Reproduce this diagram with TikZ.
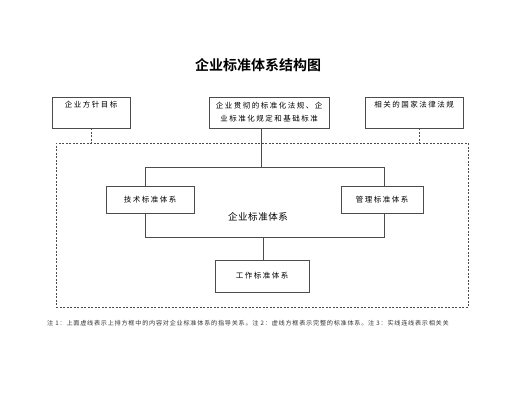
\documentclass[tikz,border=0pt]{standalone}
\usepackage{fontspec}
\setmainfont{Noto Sans CJK SC}
\newfontfamily\boxfont[LetterSpace=20]{Noto Sans CJK SC}
\newfontfamily\midfont[LetterSpace=6]{Noto Sans CJK SC}
\newfontfamily\notefont[LetterSpace=12]{Noto Sans CJK SC}
\newfontfamily\titlefont[BoldFont={Noto Sans CJK SC Bold}]{Noto Sans CJK SC}
\begin{document}
\begin{tikzpicture}[x=1pt,y=-1pt,
  ln/.style={draw=black!70,line width=0.7pt},
  dl/.style={draw=black!70,line width=0.6pt,dash pattern=on 2pt off 1.5pt},
  box/.style={ln,fill=white,inner sep=0pt,font=\boxfont\fontsize{7.5}{13}\selectfont,align=center},
  toptext/.style={box,text height=7pt,text depth=17pt}]
\useasboundingbox (0,0) rectangle (517,400);
\node[font=\titlefont\bfseries\fontsize{14}{16}\selectfont] (title) at (258,65) {企业标准体系结构图};
% top row
\node[toptext,minimum width=78,minimum height=31] (b1) at (91,112.5) {企业方针目标};
\node[box,minimum width=120,minimum height=31] (b2) at (269,112.5) {企业贯彻的标准化法规、企\\业标准化规定和基础标准};
\node[toptext,minimum width=98,minimum height=31] (b3) at (414,112.5) {相关的国家法律法规};
% frame
\node[dl,minimum width=412,minimum height=164,inner sep=0pt] (frame) at (262,225) {};
\coordinate (d3) at (419,143);
\draw[dl] (b1.south) -- (b1.south |- frame.north);
\draw[dl] (d3 |- b3.south) -- (d3);
% inner structure
\coordinate (tl) at (145,167);
\coordinate (tr) at (384,167);
\coordinate (bl) at (145,237);
\coordinate (br) at (384,237);
\coordinate (jt) at (261,167);
\coordinate (jb) at (263,237);
\node[box,minimum width=88,minimum height=27] (tech) at (150,199.5) {技术标准体系};
\node[box,minimum width=82,minimum height=27] (mgmt) at (382,199.5) {管理标准体系};
\node[box,minimum width=94,minimum height=32] (work) at (262,276) {工作标准体系};
\node[font=\midfont\fontsize{9.5}{11}\selectfont] (mid) at (258,217) {企业标准体系};
\draw[ln] (jt |- b2.south) -- (jt);
\draw[ln] (tl) -- (tr);
\draw[ln] (tl) -- (tl |- tech.north);
\draw[ln] (tr) -- (tr |- mgmt.north);
\draw[ln] (tl |- tech.south) -- (bl) -- (br) -- (br |- mgmt.south);
\draw[ln] (jb) -- (jb |- work.north);
% note
\node[anchor=west,inner sep=0pt,text=black!80,font=\notefont\fontsize{6.15}{7}\selectfont] (note) at (47,323) {注 1：上面虚线表示上排方框中的内容对企业标准体系的指导关系。注 2：虚线方框表示完整的标准体系。注 3：实线连线表示相关关};
\end{tikzpicture}
\end{document}
